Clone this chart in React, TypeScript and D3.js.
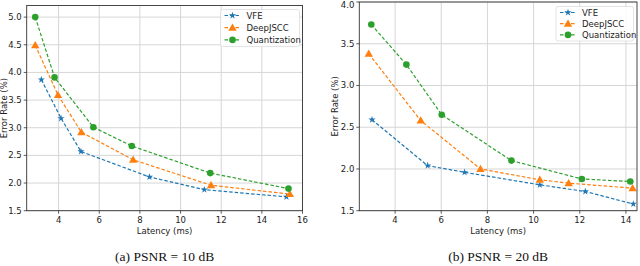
import React from 'react';
import * as d3 from 'd3';

const seriesNames = ['VFE', 'DeepJSCC', 'Quantization'];
const seriesColors = ['#1f77b4', '#ff7f0e', '#2ca02c'];

// (a) PSNR = 10 dB
const latA_vfe = [3.15, 4.12, 5.1, 8.47, 11.17, 15.21];
const errA_vfe = [3.87, 3.17, 2.57, 2.11, 1.88, 1.75];
const latA_deep = [2.85, 3.97, 5.12, 7.67, 11.5, 15.38];
const errA_deep = [4.49, 3.59, 2.92, 2.42, 1.96, 1.8];
const latA_quant = [2.85, 3.8, 5.71, 7.6, 11.46, 15.31];
const errA_quant = [5.0, 3.91, 3.01, 2.67, 2.18, 1.9];

// (b) PSNR = 20 dB
const latB_vfe = [3.0, 5.41, 7.01, 10.27, 12.24, 14.32];
const errB_vfe = [2.59, 2.04, 1.96, 1.81, 1.73, 1.58];
const latB_deep = [2.86, 5.11, 7.7, 10.27, 11.52, 14.29];
const errB_deep = [3.38, 2.58, 2.0, 1.87, 1.83, 1.77];
const latB_quant = [2.97, 4.49, 6.02, 9.04, 12.09, 14.19];
const errB_quant = [3.73, 3.25, 2.65, 2.1, 1.88, 1.85];

const xTicksA = [4, 6, 8, 10, 12, 14, 16];
const yTicksA = [1.5, 2.0, 2.5, 3.0, 3.5, 4.0, 4.5, 5.0];
const xTicksB = [4, 6, 8, 10, 12, 14];
const yTicksB = [1.5, 2.0, 2.5, 3.0, 3.5, 4.0];

const captionA = '(a) PSNR = 10 dB';
const captionB = '(b) PSNR = 20 dB';

const FONT = 'DejaVu Sans, sans-serif';

function Marker({ kind, x, y, color }: { kind: number; x: number; y: number; color: string }) {
  if (kind === 2) return <circle cx={x} cy={y} r={3.3} fill={color} />;
  const sym = kind === 0 ? d3.symbolStar : d3.symbolTriangle;
  const size = kind === 0 ? 16 : 30;
  const p = d3.symbol().type(sym).size(size)() as string;
  return <path d={p} transform={`translate(${x},${y + (kind === 1 ? 0.6 : 0)})`} fill={color} />;
}

interface PanelProps {
  box: { left: number; right: number; top: number; bottom: number };
  xDomain: [number, number];
  yDomain: [number, number];
  xTicks: number[];
  yTicks: number[];
  series: { x: number[]; y: number[] }[];
  legend: { x: number; y: number; w: number; h: number; row: number };
  ylabelX: number;
  caption: string;
}

function Panel({ box, xDomain, yDomain, xTicks, yTicks, series, legend, ylabelX, caption }: PanelProps) {
  const x = d3.scaleLinear().domain(xDomain).range([box.left, box.right]);
  const y = d3.scaleLinear().domain(yDomain).range([box.bottom, box.top]);
  const line = d3
    .line<[number, number]>()
    .x((d) => x(d[0]))
    .y((d) => y(d[1]));
  const cx = (box.left + box.right) / 2;
  return (
    <g>
      {xTicks.map((t) => (
        <line key={'gx' + t} x1={x(t)} x2={x(t)} y1={box.top} y2={box.bottom} stroke="#d6d6d6" strokeWidth={1} />
      ))}
      {yTicks.map((t) => (
        <line key={'gy' + t} x1={box.left} x2={box.right} y1={y(t)} y2={y(t)} stroke="#d6d6d6" strokeWidth={1} />
      ))}
      {series.map((s, i) => {
        const pts = s.x.map((v, j) => [v, s.y[j]] as [number, number]);
        return (
          <g key={'s' + i}>
            <path d={line(pts) as string} fill="none" stroke={seriesColors[i]} strokeWidth={1.2} strokeDasharray="3.5,2" />
            {pts.map((p, j) => (
              <Marker key={j} kind={i} x={x(p[0])} y={y(p[1])} color={seriesColors[i]} />
            ))}
          </g>
        );
      })}
      <rect x={box.left} y={box.top} width={box.right - box.left} height={box.bottom - box.top} fill="none" stroke="#333" strokeWidth={0.9} />
      {xTicks.map((t) => (
        <g key={'tx' + t}>
          <line x1={x(t)} x2={x(t)} y1={box.bottom} y2={box.bottom + 3} stroke="#333" strokeWidth={0.8} />
          <text x={x(t)} y={box.bottom + 12} fontSize={8.5} fontFamily={FONT} fill="#222" textAnchor="middle">
            {t}
          </text>
        </g>
      ))}
      {yTicks.map((t) => (
        <g key={'ty' + t}>
          <line x1={box.left - 3} x2={box.left} y1={y(t)} y2={y(t)} stroke="#333" strokeWidth={0.8} />
          <text x={box.left - 5} y={Math.max(y(t) + 3, 8)} fontSize={8.5} fontFamily={FONT} fill="#222" textAnchor="end">
            {t.toFixed(1)}
          </text>
        </g>
      ))}
      <text x={cx} y={box.bottom + 23} fontSize={8.5} fontFamily={FONT} fill="#222" textAnchor="middle">
        Latency (ms)
      </text>
      <text
        transform={`translate(${ylabelX},${(box.top + box.bottom) / 2}) rotate(-90)`}
        fontSize={8.5}
        fontFamily={FONT}
        fill="#222"
        textAnchor="middle"
      >
        Error Rate (%)
      </text>
      <g>
        <rect x={legend.x} y={legend.y} width={legend.w} height={legend.h} rx={2} fill="white" fillOpacity={0.85} stroke="#dcdcdc" strokeWidth={0.8} />
        {seriesNames.map((n, i) => {
          const ly = legend.y + 6 + i * legend.row;
          return (
            <g key={n}>
              <line x1={legend.x + 4} x2={legend.x + 20} y1={ly} y2={ly} stroke={seriesColors[i]} strokeWidth={1.2} strokeDasharray="3.5,2" />
              <Marker kind={i} x={legend.x + 12} y={ly} color={seriesColors[i]} />
              <text x={legend.x + 26} y={ly + 3} fontSize={8.5} fontFamily={FONT} fill="#222">
                {n}
              </text>
            </g>
          );
        })}
      </g>
      <text x={cx} y={261} fontSize={13.5} fontFamily="Liberation Serif, Times New Roman, serif" fill="#111" textAnchor="middle">
        {caption}
      </text>
    </g>
  );
}

export default function App() {
  const seriesA = [
    { x: latA_vfe, y: errA_vfe },
    { x: latA_deep, y: errA_deep },
    { x: latA_quant, y: errA_quant },
  ];
  const seriesB = [
    { x: latB_vfe, y: errB_vfe },
    { x: latB_deep, y: errB_deep },
    { x: latB_quant, y: errB_quant },
  ];
  return (
    <div style={{ position: 'absolute', left: 0, top: 0 }}>
      <svg width={640} height={266} style={{ display: 'block', background: 'white' }}>
        <Panel
          box={{ left: 26.7, right: 302.5, top: 5.5, bottom: 210.7 }}
          xDomain={[2.43, 16]}
          yDomain={[1.5, 5.21]}
          xTicks={xTicksA}
          yTicks={yTicksA}
          series={seriesA}
          legend={{ x: 220.5, y: 9.5, w: 79, h: 37, row: 12.2 }}
          ylabelX={7}
          caption={captionA}
        />
        <Panel
          box={{ left: 359.3, right: 637, top: 2, bottom: 210.7 }}
          xDomain={[2.45, 14.48]}
          yDomain={[1.5, 4.0]}
          xTicks={xTicksB}
          yTicks={yTicksB}
          series={seriesB}
          legend={{ x: 556, y: 6.5, w: 77.5, h: 34.5, row: 11.2 }}
          ylabelX={338}
          caption={captionB}
        />
      </svg>
    </div>
  );
}
